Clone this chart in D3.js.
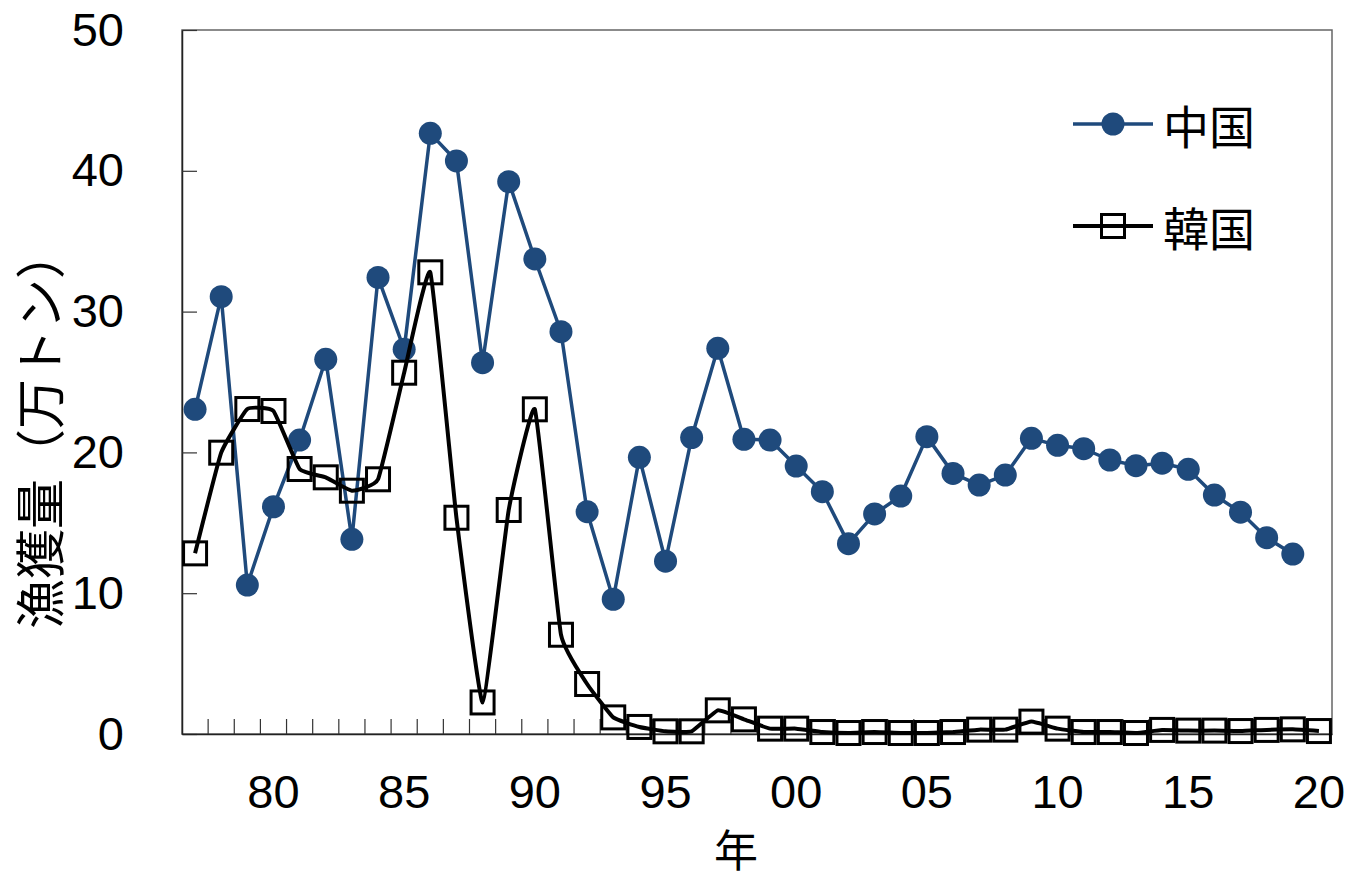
<!DOCTYPE html>
<html><head><meta charset="utf-8">
<script src="https://cdn.jsdelivr.net/npm/d3@7"></script>
<style>
html,body{margin:0;padding:0;background:#fff;}
svg{display:block;}
</style></head>
<body>
<svg id="chart" width="1349" height="880"></svg>
<script>
const years = [1977,1978,1979,1980,1981,1982,1983,1984,1985,1986,1987,1988,1989,1990,1991,1992,1993,1994,1995,1996,1997,1998,1999,2000,2001,2002,2003,2004,2005,2006,2007,2008,2009,2010,2011,2012,2013,2014,2015,2016,2017,2018,2019,2020];
const chinaCatch = [23.06,31.06,10.58,16.14,20.88,26.61,13.83,32.43,27.32,42.66,
  40.70,26.37,39.23,33.74,28.57,15.79,9.57,19.65,12.27,21.05,
  27.39,20.93,20.88,19.03,17.21,13.52,15.63,16.90,21.12,18.51,
  17.68,18.39,21.00,20.50,20.26,19.46,19.06,19.23,18.80,16.97,
  15.75,13.94,12.78];
const koreaCatch = [12.83,19.98,23.08,22.94,18.82,18.23,17.28,18.09,25.66,32.79,
  15.36,2.24,15.91,23.06,7.05,3.55,1.18,0.50,0.19,0.19,
  1.68,1.04,0.38,0.38,0.14,0.07,0.14,0.07,0.07,0.14,
  0.31,0.31,0.88,0.38,0.14,0.14,0.07,0.29,0.24,0.24,
  0.21,0.29,0.33,0.21];
const xLabelYears = [1980,1985,1990,1995,2000,2005,2010,2015,2020];
const yTicks = [0,10,20,30,40,50];
const seriesNames = ["中国","韓国"];
const yTitle = "漁獲量（万トン）";
const xTitle = "年";

const blue = "#1f4a7c";
const svg = d3.select("#chart");
const L = 182, R = 1332, T = 30, B = 734;
const x = d3.scaleBand().domain(years).range([L, R]).padding(0);
const cx = d => x(d) + x.bandwidth() / 2;
const y = d3.scaleLinear().domain([0, 50]).range([B, T]);
const numFont = "'Liberation Sans', Arial, sans-serif";
const cjkFont = "'Noto Sans CJK JP', 'Noto Sans CJK SC', sans-serif";

// frame
svg.append("rect").attr("x", L).attr("y", T).attr("width", R - L).attr("height", B - T)
  .attr("fill", "none").attr("stroke", "#666").attr("stroke-width", 1.5);

// y axis
const yAxis = d3.axisLeft(y).tickValues(yTicks).tickSizeInner(-15).tickSizeOuter(0).tickPadding(58);
const gy = svg.append("g").attr("transform", `translate(${L},0)`).call(yAxis);
gy.select(".domain").attr("stroke", "#222").attr("stroke-width", 1.5);
gy.selectAll(".tick line").attr("stroke", "#333").attr("stroke-width", 1.2);
gy.selectAll(".tick text").attr("font-family", numFont).attr("font-size", 47).attr("fill", "#000");

// x axis: category boundary ticks
const xAxis = d3.axisBottom(x).tickValues(years.slice(1)).tickSizeInner(-15).tickSizeOuter(0).tickFormat("");
const gx = svg.append("g").attr("transform", `translate(0,${B})`).call(xAxis);
gx.selectAll(".tick").attr("transform", d => `translate(${x(d)},0)`);
gx.select(".domain").attr("stroke", "#222").attr("stroke-width", 1.5);
gx.selectAll(".tick line").attr("stroke", "#333").attr("stroke-width", 1.2);

// x labels
svg.append("g").selectAll("text").data(xLabelYears).join("text")
  .attr("x", d => cx(d)).attr("y", 808)
  .attr("text-anchor", "middle").attr("font-family", numFont).attr("font-size", 47)
  .text(d => String(d % 100).padStart(2, "0"));

// titles
svg.append("text").attr("transform", "translate(37,429) rotate(-90)")
  .attr("text-anchor", "middle").attr("dominant-baseline", "central")
  .attr("font-family", cjkFont).attr("font-size", 50).text(yTitle);
svg.append("text").attr("x", 736).attr("y", 848)
  .attr("text-anchor", "middle").attr("dominant-baseline", "central")
  .attr("font-family", cjkFont).attr("font-size", 44).text(xTitle);

// China series
const chinaData = chinaCatch.map((v, i) => ({year: years[i], v}));
const koreaData = koreaCatch.map((v, i) => ({year: years[i], v}));
svg.append("path").datum(chinaData)
  .attr("d", d3.line().x(d => cx(d.year)).y(d => y(d.v)))
  .attr("fill", "none").attr("stroke", blue).attr("stroke-width", 3.5).attr("stroke-linejoin", "round");
svg.append("g").selectAll("circle").data(chinaData).join("circle")
  .attr("cx", d => cx(d.year)).attr("cy", d => y(d.v)).attr("r", 11.5).attr("fill", blue);

// Korea series (lightly smoothed line)
svg.append("path").datum(koreaData)
  .attr("d", d3.line().curve(d3.curveCardinal.tension(0.65)).x(d => cx(d.year)).y(d => y(d.v)))
  .attr("fill", "none").attr("stroke", "#000").attr("stroke-width", 4).attr("stroke-linejoin", "round");
svg.append("g").selectAll("rect").data(koreaData).join("rect")
  .attr("x", d => cx(d.year) - 11.5).attr("y", d => y(d.v) - 11.5)
  .attr("width", 23).attr("height", 23)
  .attr("fill", "none").attr("stroke", "#000").attr("stroke-width", 3);

// legend
const lg = svg.append("g");
const legendRows = [{name: seriesNames[0], y: 124, type: "circle"}, {name: seriesNames[1], y: 226, type: "square"}];
legendRows.forEach(r => {
  const col = r.type === "circle" ? blue : "#000";
  lg.append("line").attr("x1", 1073).attr("x2", 1153).attr("y1", r.y).attr("y2", r.y)
    .attr("stroke", col).attr("stroke-width", r.type === "circle" ? 3.5 : 4);
  if (r.type === "circle") {
    lg.append("circle").attr("cx", 1113).attr("cy", r.y).attr("r", 11.5).attr("fill", blue);
  } else {
    lg.append("rect").attr("x", 1113 - 11.5).attr("y", r.y - 11.5).attr("width", 23).attr("height", 23)
      .attr("fill", "none").attr("stroke", "#000").attr("stroke-width", 3);
  }
  lg.append("text").attr("x", 1163).attr("y", r.y).attr("dominant-baseline", "central")
    .attr("font-family", cjkFont).attr("font-size", 46).text(r.name);
});
</script>
</body></html>
